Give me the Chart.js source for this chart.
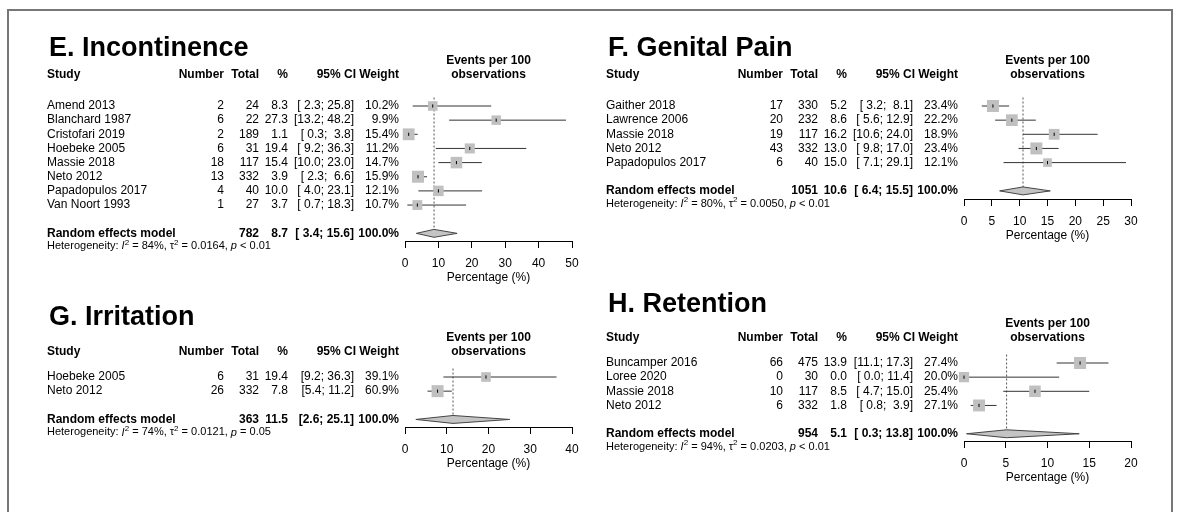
<!DOCTYPE html>
<html>
<head>
<meta charset="utf-8">
<script src="https://cdn.jsdelivr.net/npm/chart.js@4.4.1/dist/chart.umd.min.js"></script>
<style>
  html, body { margin: 0; padding: 0; background: #fff; }
  body { width: 1182px; height: 512px; position: relative; overflow: hidden; }
  .frame { position: absolute; left: 7px; top: 9px; width: 1162px; height: 560px;
           border: 2px solid #777; border-bottom: none; }
  canvas { position: absolute; }
</style>
</head>
<body>
<div class="frame"></div>
<canvas id="cE"></canvas>
<canvas id="cF"></canvas>
<canvas id="cG"></canvas>
<canvas id="cH"></canvas>
<script>
// ---------------- DATA ----------------
// E. Incontinence
const E_studies = ['Amend 2013', 'Blanchard 1987', 'Cristofari 2019', 'Hoebeke 2005', 'Massie 2018', 'Neto 2012', 'Papadopulos 2017', 'Van Noort 1993'];
const E_events  = [2, 6, 2, 6, 18, 13, 4, 1];
const E_totals  = [24, 22, 189, 31, 117, 332, 40, 27];
const E_est     = [8.3, 27.3, 1.1, 19.4, 15.4, 3.9, 10.0, 3.7];
const E_lower   = [2.3, 13.2, 0.3, 9.2, 10.0, 2.3, 4.0, 0.7];
const E_upper   = [25.8, 48.2, 3.8, 36.3, 23.0, 6.6, 23.1, 18.3];
const E_weight  = [10.2, 9.9, 15.4, 11.2, 14.7, 15.9, 12.1, 10.7];
const E_random  = [782, 8.7, 3.4, 15.6];          // total, estimate, lower, upper
const E_het     = ['84%', '0.0164', '< 0.01'];    // I^2, tau^2, p
const E_ticks   = [0, 10, 20, 30, 40, 50];

// F. Genital Pain
const F_studies = ['Gaither 2018', 'Lawrence 2006', 'Massie 2018', 'Neto 2012', 'Papadopulos 2017'];
const F_events  = [17, 20, 19, 43, 6];
const F_totals  = [330, 232, 117, 332, 40];
const F_est     = [5.2, 8.6, 16.2, 13.0, 15.0];
const F_lower   = [3.2, 5.6, 10.6, 9.8, 7.1];
const F_upper   = [8.1, 12.9, 24.0, 17.0, 29.1];
const F_weight  = [23.4, 22.2, 18.9, 23.4, 12.1];
const F_random  = [1051, 10.6, 6.4, 15.5];
const F_het     = ['80%', '0.0050', '< 0.01'];
const F_ticks   = [0, 5, 10, 15, 20, 25, 30];

// G. Irritation
const G_studies = ['Hoebeke 2005', 'Neto 2012'];
const G_events  = [6, 26];
const G_totals  = [31, 332];
const G_est     = [19.4, 7.8];
const G_lower   = [9.2, 5.4];
const G_upper   = [36.3, 11.2];
const G_weight  = [39.1, 60.9];
const G_random  = [363, 11.5, 2.6, 25.1];
const G_het     = ['74%', '0.0121', '= 0.05'];
const G_ticks   = [0, 10, 20, 30, 40];

// H. Retention
const H_studies = ['Buncamper 2016', 'Loree 2020', 'Massie 2018', 'Neto 2012'];
const H_events  = [66, 0, 10, 6];
const H_totals  = [475, 30, 117, 332];
const H_est     = [13.9, 0.0, 8.5, 1.8];
const H_lower   = [11.1, 0.0, 4.7, 0.8];
const H_upper   = [17.3, 11.4, 15.0, 3.9];
const H_weight  = [27.4, 20.0, 25.4, 27.1];
const H_random  = [954, 5.1, 0.3, 13.8];
const H_het     = ['94%', '0.0203', '< 0.01'];
const H_ticks   = [0, 5, 10, 15, 20];

// ---------------- RENDERING ----------------
const FONT = "'Liberation Sans', Arial, Helvetica, sans-serif";
Chart.defaults.font.family = FONT;
Chart.defaults.color = '#000';

const ROW_STEP = 14.15;   // px per row
const AXIS_H = 44;        // height reserved for x axis (ticks + labels + title)
const PLOT_LEFT = 405;    // local x of forest-plot zero
const PLOT_RIGHT = 572;   // local x of forest-plot max
const TABLE_LEFT = 47;    // local x of table
// column right edges (local)
const COL = { number: 224, total: 259, pct: 288, ci: 354, ciHead: 356, weight: 399 };

function fmt1(v) { return v.toFixed(1); }
function ciStrings(lo, hi) {
  const L = lo.map(fmt1), H = hi.map(fmt1);
  const wl = Math.max(...L.map(s => s.length)), wh = Math.max(...H.map(s => s.length));
  return L.map((s, i) => '[' + s.padStart(wl, ' ') + '; ' + H[i].padStart(wh, ' ') + ']');
}

function drawHet(ctx, x, y, het) {
  const segs = [
    ['Heterogeneity: ', 'n'], ['I', 'i'], ['2', 's'], [' = ' + het[0] + ', ', 'n'],
    ['\u03C4', 'n'], ['2', 's'], [' = ' + het[1] + ', ', 'n'], ['p', 'i'], [' ' + het[2], 'n']
  ];
  ctx.textAlign = 'left';
  ctx.textBaseline = 'middle';
  for (const [t, k] of segs) {
    let yy = y;
    if (k === 's') { ctx.font = '8px ' + FONT; yy = y - 4; }
    else if (k === 'i') { ctx.font = 'italic 11px ' + FONT; }
    else { ctx.font = '11px ' + FONT; }
    ctx.fillText(t, x, yy);
    x += ctx.measureText(t).width;
  }
}

function makePanel(P) {
  const canvas = document.getElementById(P.id);
  const H = P.axisY - P.top + AXIS_H;
  canvas.width = P.width; canvas.height = H;
  canvas.style.left = P.left + 'px'; canvas.style.top = P.top + 'px';
  canvas.style.width = P.width + 'px'; canvas.style.height = H + 'px';

  const n = P.studies.length;
  const reIdx = n + 1;
  const padTop = (P.row0 - P.top) - ROW_STEP;        // y = -1 at chart top
  const yMax = -1 + (P.axisY - P.top - padTop) / ROW_STEP;
  const maxW = Math.max(...P.weight);
  const [reTotal, reEst, reLo, reHi] = P.random;
  const ci = ciStrings(P.lower.concat([reLo]), P.upper.concat([reHi]));

  const datasets = [];
  // reference (pooled estimate) dotted line
  datasets.push({ type: 'line', data: [{ x: reEst, y: -0.6 }, { x: reEst, y: reIdx }],
    borderColor: '#555', borderWidth: 1, borderDash: [2, 2], pointRadius: 0, order: 6, clip: false });
  // confidence intervals
  P.est.forEach((v, i) => {
    datasets.push({ type: 'line', data: [{ x: P.lower[i], y: i }, { x: P.upper[i], y: i }],
      borderColor: '#333', borderWidth: 1, pointRadius: 0, order: 5, clip: false });
  });
  // weight squares
  datasets.push({ type: 'scatter', data: P.est.map((v, i) => ({ x: v, y: i })),
    pointStyle: 'rect', pointRadius: P.weight.map(w => 12 * Math.sqrt(w / maxW) / Math.SQRT2),
    backgroundColor: '#c0c0c0', borderColor: '#c0c0c0', borderWidth: 0, order: 4, clip: false });
  // point estimate tick
  datasets.push({ type: 'scatter', data: P.est.map((v, i) => ({ x: v, y: i })),
    pointStyle: 'line', pointRotation: 90, pointRadius: 1.6,
    borderColor: '#000', borderWidth: 1, order: 3, clip: false });
  // pooled diamond
  const dh = 0.28;
  datasets.push({ type: 'line', data: [
      { x: reLo, y: reIdx }, { x: reEst, y: reIdx - dh }, { x: reHi, y: reIdx },
      { x: reEst, y: reIdx + dh }, { x: reLo, y: reIdx }],
    fill: 'shape', backgroundColor: '#c4c4c4', borderColor: '#444', borderWidth: 1,
    pointRadius: 0, tension: 0, order: 1, clip: false });

  const tablePlugin = {
    id: 'table' + P.id,
    afterDraw(chart) {
      const ctx = chart.ctx;
      const ys = chart.scales.y, xs = chart.scales.x;
      const y0 = ys.getPixelForValue(0);
      const headY = y0 - P.headGap;
      ctx.save();
      ctx.fillStyle = '#000';
      // title
      ctx.font = 'bold 27px ' + FONT;
      ctx.textAlign = 'left'; ctx.textBaseline = 'alphabetic';
      ctx.fillText(P.title, TABLE_LEFT + 2, y0 - P.titleGap);
      // header
      ctx.font = 'bold 12px ' + FONT;
      ctx.textBaseline = 'middle';
      ctx.fillText('Study', TABLE_LEFT, headY);
      ctx.textAlign = 'right';
      ctx.fillText('Number', COL.number, headY);
      ctx.fillText('Total', COL.total, headY);
      ctx.fillText('%', COL.pct, headY);
      ctx.fillText('95% CI', COL.ciHead, headY);
      ctx.fillText('Weight', COL.weight, headY);
      ctx.textAlign = 'center';
      const cx = (xs.left + xs.right) / 2;
      ctx.fillText('Events per 100', cx, headY - 14);
      ctx.fillText('observations', cx, headY);
      // rows
      ctx.font = '12px ' + FONT;
      P.studies.forEach((s, i) => {
        const y = ys.getPixelForValue(i);
        ctx.textAlign = 'left';
        ctx.fillText(s, TABLE_LEFT, y);
        ctx.textAlign = 'right';
        ctx.fillText(String(P.events[i]), COL.number, y);
        ctx.fillText(String(P.totals[i]), COL.total, y);
        ctx.fillText(fmt1(P.est[i]), COL.pct, y);
        ctx.fillText(ci[i], COL.ci, y);
        ctx.fillText(fmt1(P.weight[i]) + '%', COL.weight, y);
      });
      // random effects row
      const yr = ys.getPixelForValue(reIdx);
      ctx.font = 'bold 12px ' + FONT;
      ctx.textAlign = 'left';
      ctx.fillText('Random effects model', TABLE_LEFT, yr);
      ctx.textAlign = 'right';
      ctx.fillText(String(reTotal), COL.total, yr);
      ctx.fillText(fmt1(reEst), COL.pct, yr);
      ctx.fillText(ci[n], COL.ci, yr);
      ctx.fillText('100.0%', COL.weight, yr);
      drawHet(ctx, TABLE_LEFT, yr + 13, P.het);
      ctx.restore();
    }
  };

  return new Chart(canvas, {
    type: 'scatter',
    data: { datasets },
    options: {
      responsive: false, animation: false, devicePixelRatio: 1, events: [],
      layout: { padding: { left: PLOT_LEFT, right: P.width - PLOT_RIGHT, top: padTop, bottom: 0 } },
      plugins: { legend: { display: false }, tooltip: { enabled: false } },
      scales: {
        x: {
          type: 'linear', position: 'bottom', min: P.ticks[0], max: P.ticks[P.ticks.length - 1],
          afterBuildTicks: s => { s.ticks = P.ticks.map(v => ({ value: v })); },
          afterFit: s => { s.height = AXIS_H; },
          ticks: { color: '#000', font: { size: 12 }, padding: 8, maxRotation: 0, autoSkip: false },
          grid: { drawOnChartArea: false, drawTicks: true, tickLength: 7, color: '#000', lineWidth: 1 },
          border: { display: true, color: '#000', width: 1 },
          title: { display: true, text: 'Percentage (%)', color: '#000', font: { size: 12 }, padding: { top: 0, bottom: 0 } }
        },
        y: { type: 'linear', reverse: true, min: -1, max: yMax, display: false }
      }
    },
    plugins: [tablePlugin]
  });
}

makePanel({ id: 'cE', left: 0,   top: 0,   width: 590, row0: 106, axisY: 241, titleGap: 50, headGap: 31,
  title: 'E. Incontinence',
  studies: E_studies, events: E_events, totals: E_totals, est: E_est, lower: E_lower, upper: E_upper,
  weight: E_weight, random: E_random, het: E_het, ticks: E_ticks });
makePanel({ id: 'cF', left: 559, top: 0,   width: 623, row0: 106, axisY: 199, titleGap: 50, headGap: 31,
  title: 'F. Genital Pain',
  studies: F_studies, events: F_events, totals: F_totals, est: F_est, lower: F_lower, upper: F_upper,
  weight: F_weight, random: F_random, het: F_het, ticks: F_ticks });
makePanel({ id: 'cG', left: 0,   top: 280, width: 590, row0: 377, axisY: 427, titleGap: 52, headGap: 25,
  title: 'G. Irritation',
  studies: G_studies, events: G_events, totals: G_totals, est: G_est, lower: G_lower, upper: G_upper,
  weight: G_weight, random: G_random, het: G_het, ticks: G_ticks });
makePanel({ id: 'cH', left: 559, top: 280, width: 623, row0: 363, axisY: 441, titleGap: 51, headGap: 25,
  title: 'H. Retention',
  studies: H_studies, events: H_events, totals: H_totals, est: H_est, lower: H_lower, upper: H_upper,
  weight: H_weight, random: H_random, het: H_het, ticks: H_ticks });
</script>
</body>
</html>
